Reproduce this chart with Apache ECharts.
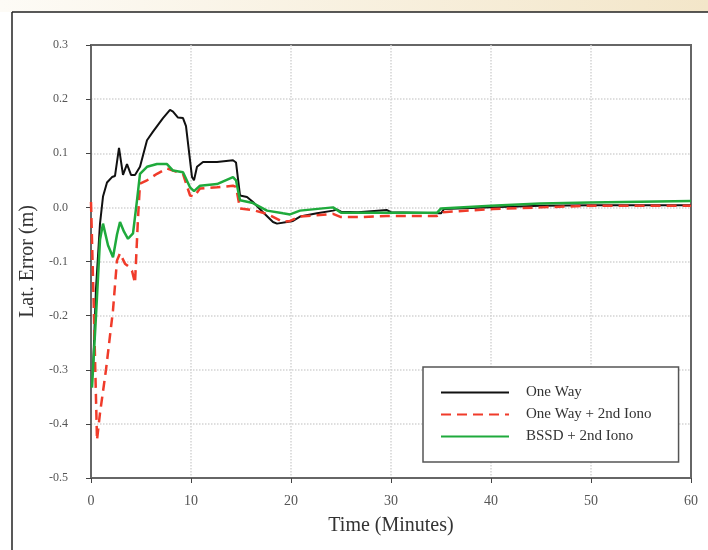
<!DOCTYPE html>
<html>
<head>
<meta charset="utf-8">
<script src="https://cdn.jsdelivr.net/npm/echarts@6/dist/echarts.min.js"></script>
<style>html,body{margin:0;padding:0;background:#fff;}#c{width:708px;height:550px;}</style>
</head>
<body>
<div id="c"></div>
<script>
const seriesNames = ['One Way', 'One Way + 2nd Iono', 'BSSD + 2nd Iono'];
const xTicks = [0, 10, 20, 30, 40, 50, 60];
const yTicks = [-0.5, -0.4, -0.3, -0.2, -0.1, 0.0, 0.1, 0.2, 0.3];

const oneWay = [[0.2,-0.30],[0.5,-0.15],[0.9,-0.03],[1.2,0.02],[1.6,0.046],[2.1,0.056],[2.4,0.058],[2.8,0.11],[3.2,0.06],[3.6,0.08],[4.0,0.06],[4.4,0.06],[4.9,0.075],[5.6,0.124],[6.2,0.14],[7.2,0.165],[7.9,0.18],[8.2,0.177],[8.7,0.166],[9.2,0.165],[9.5,0.15],[10.1,0.056],[10.3,0.05],[10.6,0.075],[11.2,0.084],[12.6,0.084],[14.2,0.087],[14.5,0.083],[14.9,0.022],[15.6,0.019],[16.2,0.01],[17.2,-0.009],[18.2,-0.027],[18.6,-0.03],[19.6,-0.027],[20.2,-0.025],[20.9,-0.017],[22.6,-0.011],[24.2,-0.006],[24.6,-0.004],[25,-0.008],[26.7,-0.009],[28,-0.007],[29.6,-0.005],[30,-0.009],[35,-0.011],[35.3,-0.003],[40,0.0],[45,0.003],[50,0.004],[60,0.004]];

const oneWayIono = [[0,0.01],[0.3,-0.2],[0.6,-0.43],[0.9,-0.38],[1.5,-0.30],[2.2,-0.19],[2.6,-0.098],[2.9,-0.085],[3.4,-0.104],[3.8,-0.11],[4.1,-0.117],[4.4,-0.14],[4.7,-0.02],[4.9,0.044],[5.6,0.05],[6.6,0.062],[7.6,0.072],[8.2,0.068],[9.2,0.062],[9.9,0.022],[10.3,0.02],[10.9,0.035],[12.6,0.037],[14.2,0.04],[14.5,0.038],[14.9,-0.002],[16.2,-0.005],[17.6,-0.012],[19.2,-0.027],[19.9,-0.025],[20.9,-0.017],[24.2,-0.012],[25,-0.018],[26.7,-0.018],[29.6,-0.016],[34.6,-0.016],[35.2,-0.009],[40.2,-0.003],[45,0.0],[49.9,0.003],[60,0.003]];

const bssdIono = [[0.1,-0.333],[0.5,-0.2],[0.9,-0.06],[1.2,-0.03],[1.7,-0.07],[2.2,-0.092],[2.6,-0.05],[2.9,-0.027],[3.3,-0.045],[3.7,-0.058],[4.2,-0.048],[4.6,0.013],[4.9,0.062],[5.6,0.075],[6.6,0.08],[7.6,0.08],[8.2,0.068],[9.2,0.065],[9.9,0.037],[10.3,0.03],[10.9,0.04],[12.6,0.043],[14.2,0.056],[14.5,0.05],[14.9,0.013],[16.2,0.008],[17.6,-0.006],[19.2,-0.011],[19.9,-0.013],[20.9,-0.006],[24.2,0.0],[24.7,-0.006],[25,-0.01],[26.7,-0.01],[34.6,-0.01],[35,-0.002],[40,0.003],[44.9,0.007],[49.9,0.009],[60,0.012]];

const chart = echarts.init(document.getElementById('c'), null, {renderer: 'canvas'});
const serif = '"Liberation Serif", "DejaVu Serif", serif';
chart.setOption({
  backgroundColor: '#fff',
  animation: false,
  graphic: [
    {type: 'rect', left: 0, top: 0, shape: {width: 708, height: 12}, z: -10,
     style: {fill: new echarts.graphic.LinearGradient(0, 0, 1, 0, [{offset: 0, color: '#fdfbf6'}, {offset: 1, color: '#f3e6c9'}])}},
    {type: 'line', shape: {x1: 12, y1: 12, x2: 708, y2: 12}, style: {stroke: '#222', lineWidth: 1.5}},
    {type: 'line', shape: {x1: 12, y1: 12, x2: 12, y2: 550}, style: {stroke: '#222', lineWidth: 1.5}}
  ],
  grid: {left: 91, right: 17, top: 45, bottom: 72, show: true, borderColor: '#666', borderWidth: 2},
  legend: {
    orient: 'vertical', left: 423, top: 367,
    data: seriesNames,
    itemWidth: 68, itemHeight: 14, itemGap: 7,
    padding: [18, 27, 18, 17],
    borderColor: '#555', borderWidth: 1.5, backgroundColor: '#fff',
    itemStyle: {opacity: 0},
    textStyle: {fontFamily: serif, fontSize: 15, color: '#333', padding: [0, 0, 0, 12]}
  },
  xAxis: {
    type: 'value', min: 0, max: 60, interval: 10,
    name: 'Time (Minutes)', nameLocation: 'middle', nameGap: 38,
    nameTextStyle: {fontFamily: serif, fontSize: 20, color: '#333'},
    axisLine: {show: true, onZero: false, lineStyle: {color: '#666', width: 2}},
    axisTick: {show: true, inside: false, length: 5, lineStyle: {color: '#444'}},
    axisLabel: {fontFamily: serif, fontSize: 14, color: '#555', margin: 16},
    splitLine: {show: true, showMinLine: false, showMaxLine: false, lineStyle: {color: '#d4d4d4', type: 'dotted', width: 1.5}}
  },
  yAxis: {
    type: 'value', min: -0.5, max: 0.3, interval: 0.1,
    name: 'Lat. Error (m)', nameLocation: 'middle', nameGap: 51,
    nameTextStyle: {fontFamily: serif, fontSize: 20, color: '#333'},
    axisLine: {show: true, onZero: false, lineStyle: {color: '#666', width: 2}},
    axisTick: {show: true, inside: false, length: 5, lineStyle: {color: '#444'}},
    axisLabel: {fontFamily: serif, fontSize: 12, color: '#555', margin: 23,
      formatter: v => { const t = yTicks.find(k => Math.abs(k - v) < 1e-9); return (t === undefined ? v : t).toFixed(1); }},
    splitLine: {show: true, showMinLine: false, showMaxLine: false, lineStyle: {color: '#d4d4d4', type: 'dotted', width: 1.5}}
  },
  series: [
    {name: seriesNames[0], type: 'line', data: oneWay, showSymbol: false, symbol: 'none', z: 2,
     lineStyle: {color: '#111', width: 2}, itemStyle: {color: '#111'}},
    {name: seriesNames[1], type: 'line', data: oneWayIono, showSymbol: false, symbol: 'none', z: 3,
     lineStyle: {color: '#f03b2a', width: 2.5, type: [10, 6]}, itemStyle: {color: '#f03b2a'}},
    {name: seriesNames[2], type: 'line', data: bssdIono, showSymbol: false, symbol: 'none', z: 4,
     lineStyle: {color: '#1faa3c', width: 2.5}, itemStyle: {color: '#1faa3c'}}
  ]
});
</script>
</body>
</html>
